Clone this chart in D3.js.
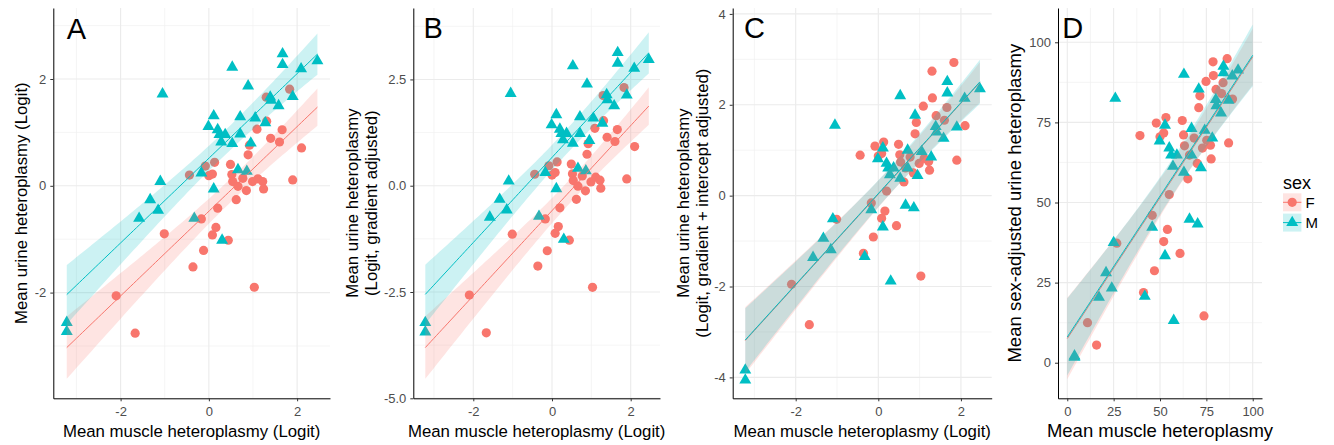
<!DOCTYPE html>
<html>
<head>
<meta charset="utf-8">
<script src="https://cdn.jsdelivr.net/npm/d3@7"></script>
<style>
  body { margin: 0; background: #fff; }
  svg { display: block; font-family: "Liberation Sans", Arial, sans-serif; }
</style>
</head>
<body>
<svg id="chart" width="1334" height="445"></svg>
<script>
// ---- data ----
// muscle heteroplasmy (logit), shared by panels A, B, C
var muscleLogitF = [-2.10, -1.67, -1.01, -0.44, -0.36, -0.17, -0.12, -0.08, 0.00, 0.08, 0.13, 0.08, 0.16, 0.20, 0.44, 0.49, 0.52, 0.54, 0.62, 0.66, 0.77, 0.85, 0.89, 0.92, 0.99, 1.03, 1.09, 1.11, 1.22, 1.24, 1.30, 1.31, 1.40, 1.60, 1.66, 1.83, 1.90, 2.10];
var muscleLogitM = [-3.22, -3.22, -1.58, -1.33, -1.15, -1.10, -1.05, -0.33, -0.17, -0.01, 0.11, 0.11, 0.20, 0.24, 0.28, 0.37, 0.30, 0.53, 0.53, 0.66, 0.71, 0.71, 0.86, 0.89, 0.95, 1.05, 1.28, 1.39, 1.41, 1.58, 1.67, 1.67, 1.90, 2.09, 2.46];

// A: urine heteroplasmy (logit)
var urineAF = [-2.06, -2.76, -0.90, 0.20, -1.52, -0.62, -1.21, 0.37, 0.19, 0.22, 0.44, -0.92, -0.78, -0.42, -1.02, 0.40, 0.21, 0.08, -0.26, -0.01, 0.14, -0.09, 0.58, 0.76, 0.08, -1.90, 1.06, 0.13, 0.08, -0.06, 1.66, 1.21, 0.89, 0.82, 1.05, 1.81, 0.11, 0.71];
var urineAM = [-2.56, -2.73, -0.61, -0.26, -0.46, 0.08, 1.72, -0.61, 0.24, 1.11, 1.31, -0.06, 1.05, 0.96, 0.82, 0.96, -1.02, 0.79, 2.22, 0.30, 1.29, 0.97, 0.27, 1.87, 0.80, 1.27, 1.18, 1.66, 1.60, 1.50, 2.47, 2.27, 1.67, 2.19, 2.34];

// B: gradient adjusted
var urineBF = [-2.57, -3.46, -1.14, 0.27, -1.89, -0.78, -1.53, 0.47, 0.25, 0.31, 0.56, -1.12, -0.96, -0.52, -1.28, 0.51, 0.28, 0.12, -0.32, -0.01, 0.23, -0.12, 0.74, 0.99, 0.09, -2.39, 1.35, 0.20, 0.13, -0.06, 2.12, 1.53, 1.14, 1.04, 1.32, 2.31, 0.16, 0.92];
var urineBM = [-3.22, -3.44, -0.74, -0.32, -0.57, 0.11, 2.17, -0.72, 0.31, 1.43, 1.67, -0.07, 1.33, 1.23, 1.08, 1.23, -1.26, 1.00, 2.82, 0.41, 1.62, 1.23, 0.35, 2.39, 1.06, 1.59, 1.47, 2.14, 2.02, 1.88, 3.13, 2.88, 2.13, 2.76, 2.97];

// C: gradient + intercept adjusted
var urineCF = [-1.95, -2.84, -0.52, 0.89, -1.27, -0.16, -0.91, 1.09, 0.87, 0.93, 1.18, -0.50, -0.34, 0.10, -0.66, 1.13, 0.90, 0.74, 0.30, 0.61, 0.85, 0.50, 1.36, 1.61, 0.71, -1.77, 1.97, 0.82, 0.75, 0.56, 2.74, 2.15, 1.76, 1.66, 1.94, 2.93, 0.78, 1.54];
var urineCM = [-3.84, -4.06, -1.36, -0.94, -1.19, -0.51, 1.55, -1.34, -0.31, 0.81, 1.05, -0.69, 0.71, 0.61, 0.46, 0.61, -1.88, 0.38, 2.20, -0.21, 1.00, 0.61, -0.27, 1.77, 0.44, 0.97, 0.85, 1.52, 1.40, 1.26, 2.51, 2.26, 1.51, 2.14, 2.35];

// D: percentages
var musclePctF = [10.9, 15.8, 26.7, 39.2, 41.1, 45.8, 47.0, 48.0, 50.0, 52.0, 53.2, 52.0, 54.0, 55.0, 60.8, 62.0, 62.7, 63.2, 65.0, 65.9, 68.4, 70.1, 70.9, 71.5, 72.9, 73.7, 74.8, 75.2, 77.2, 77.6, 78.6, 78.8, 80.2, 83.2, 84.0, 86.2, 87.0, 89.1];
var urinePctF = [12.5, 5.5, 37.3, 70.9, 21.9, 46.0, 28.7, 74.8, 70.5, 71.7, 76.5, 37.8, 41.6, 52.5, 34.1, 75.6, 71.1, 67.7, 57.4, 64.8, 70.1, 62.2, 79.6, 83.3, 67.0, 14.6, 87.8, 69.4, 67.9, 63.6, 93.9, 89.6, 85.3, 84.0, 87.4, 94.9, 68.6, 82.3];
var musclePctM = [3.9, 3.9, 17.1, 20.9, 24.0, 25.0, 25.9, 41.8, 45.8, 49.8, 52.7, 52.7, 55.0, 56.0, 57.0, 59.1, 57.4, 62.9, 62.9, 65.9, 67.0, 67.0, 70.3, 70.9, 72.1, 74.1, 78.2, 80.1, 80.4, 82.9, 84.2, 84.2, 87.0, 89.0, 92.1];
var urinePctM = [2.1, 1.7, 20.4, 28.1, 23.3, 37.5, 82.5, 20.7, 42.3, 69.2, 74.1, 33.4, 67.0, 64.8, 61.3, 64.8, 13.2, 59.4, 90.0, 44.8, 73.1, 64.8, 43.3, 85.4, 60.8, 72.5, 70.1, 82.1, 80.2, 77.9, 92.5, 90.5, 81.9, 89.5, 91.3];

// tick labels
var logitTicks = [-2, 0, 2];
var ticksA = [-2, 0, 2];
var ticksB = [-5, -2.5, 0, 2.5];
var ticksC = [-4, -2, 0, 2, 4];
var pctTicks = [0, 25, 50, 75, 100];

var sexes = ['F', 'M'];
var colors = {F: '#F8766D', M: '#00BFC4'};

var svg = d3.select('#chart');
var plotTop = 8, plotBottom = 398.3;

// urine ~ muscle + sex (common slope), 95% band for each sex
function fitBands(groups, x0, x1) {
  var st = {}, sxx = 0, sxy = 0, n = 0, sse = 0;
  sexes.forEach(function(s){
    var xs = groups[s][0], ys = groups[s][1];
    var mx = d3.mean(xs), my = d3.mean(ys);
    st[s] = {n: xs.length, mx: mx, my: my};
    sxx += d3.sum(xs, function(d){ return (d - mx) * (d - mx); });
    sxy += d3.sum(xs.map(function(d, i){ return (d - mx) * (ys[i] - my); }));
    n += xs.length;
  });
  var b = sxy / sxx;
  sexes.forEach(function(s){
    var xs = groups[s][0], ys = groups[s][1];
    st[s].a = st[s].my - b * st[s].mx;
    sse += d3.sum(xs.map(function(d, i){ return Math.pow(ys[i] - st[s].a - b * d, 2); }));
  });
  var sd = Math.sqrt(sse / (n - 3));
  var t = 1.96 + 2.4 / (n - 3);
  var out = {};
  sexes.forEach(function(s){
    var q = st[s];
    out[s] = d3.range(80).map(function(k){
      var x = x0 + (x1 - x0) * k / 79;
      var se = sd * Math.sqrt(1 / q.n + (x - q.mx) * (x - q.mx) / sxx);
      var y = q.a + b * x;
      return {x: x, y: y, lo: y - t * se, hi: y + t * se};
    });
  });
  return out;
}

function minors(ticks, dom) {
  var step = ticks[1] - ticks[0], out = [];
  for (var v = ticks[0] - step / 2; v <= dom[1]; v += step) {
    if (v >= dom[0]) out.push(v);
  }
  return out;
}

var fmt = function(d){ return String(d); };
var fmt1 = function(d){ return d.toFixed(1); };

var panels = [
  {letter: 'A', letterAt: [-3.0, 2.94], left: 53.3, right: 330,
   xDomain: [-3.525, 2.745], yDomain: [-3.98, 3.33], xTicks: logitTicks, yTicks: ticksA, yFmt: fmt,
   fitRange: [-3.22, 2.46], titleSize: 16.8,
   xTitle: 'Mean muscle heteroplasmy (Logit)',
   yTitle: [['Mean urine heteroplasmy (Logit)', 27]],
   data: {F: [muscleLogitF, urineAF], M: [muscleLogitM, urineAM]}},
  {letter: 'B', letterAt: [-3.02, 3.72], left: 413.3, right: 660,
   xDomain: [-3.525, 2.745], yDomain: [-5.0, 4.18], xTicks: logitTicks, yTicks: ticksB, yFmt: fmt1,
   fitRange: [-3.22, 2.46], titleSize: 16.8,
   xTitle: 'Mean muscle heteroplasmy (Logit)',
   yTitle: [['Mean urine heteroplasmy', 357.5], ['(Logit, gradient adjusted)', 376.5]],
   data: {F: [muscleLogitF, urineBF], M: [muscleLogitM, urineBM]}},
  {letter: 'C', letterAt: [-3.0, 3.7], left: 732.7, right: 991.7,
   xDomain: [-3.525, 2.745], yDomain: [-4.46, 4.13], xTicks: logitTicks, yTicks: ticksC, yFmt: fmt,
   fitRange: [-3.22, 2.46], titleSize: 16.8,
   xTitle: 'Mean muscle heteroplasmy (Logit)',
   yTitle: [['Mean urine heteroplasmy', 689], ['(Logit, gradient + intercept adjusted)', 708]],
   data: {F: [muscleLogitF, urineCF], M: [muscleLogitM, urineCM]}},
  {letter: 'D', letterAt: [2.9, 104.5], left: 1058, right: 1262,
   xDomain: [-5, 105], yDomain: [-11.1, 110.7], xTicks: pctTicks, yTicks: pctTicks, yFmt: fmt,
   fitRange: [0, 100], titleSize: 18.5,
   xTitle: 'Mean muscle heteroplasmy',
   yTitle: [['Mean sex-adjusted urine heteroplasmy', 1021]],
   data: {F: [musclePctF, urinePctF], M: [musclePctM, urinePctM]}}
];

var tri = d3.symbol().type(d3.symbolTriangle).size(62);

panels.forEach(function(p){
  var g = svg.append('g');
  var x = d3.scaleLinear().domain(p.xDomain).range([p.left, p.right]);
  var y = d3.scaleLinear().domain(p.yDomain).range([plotBottom, plotTop]);

  // grid
  g.selectAll('.gxm').data(minors(p.xTicks, p.xDomain)).enter().append('line')
    .attr('x1', function(d){ return x(d); }).attr('x2', function(d){ return x(d); })
    .attr('y1', plotTop).attr('y2', plotBottom)
    .attr('stroke', '#f0f0f0').attr('stroke-width', 0.7);
  g.selectAll('.gym').data(minors(p.yTicks, p.yDomain)).enter().append('line')
    .attr('y1', function(d){ return y(d); }).attr('y2', function(d){ return y(d); })
    .attr('x1', p.left).attr('x2', p.right)
    .attr('stroke', '#f0f0f0').attr('stroke-width', 0.7);
  g.selectAll('.gx').data(p.xTicks).enter().append('line')
    .attr('x1', function(d){ return x(d); }).attr('x2', function(d){ return x(d); })
    .attr('y1', plotTop).attr('y2', plotBottom)
    .attr('stroke', '#ebebeb').attr('stroke-width', 1.1);
  g.selectAll('.gy').data(p.yTicks).enter().append('line')
    .attr('y1', function(d){ return y(d); }).attr('y2', function(d){ return y(d); })
    .attr('x1', p.left).attr('x2', p.right)
    .attr('stroke', '#ebebeb').attr('stroke-width', 1.1);

  // points
  sexes.forEach(function(s){
    var xs = p.data[s][0], ys = p.data[s][1];
    var pts = xs.map(function(d, i){ return [d, ys[i]]; });
    if (s === 'F') {
      g.selectAll('.pf').data(pts).enter().append('circle')
        .attr('cx', function(d){ return x(d[0]); })
        .attr('cy', function(d){ return y(d[1]); })
        .attr('r', 4.6)
        .attr('fill', colors.F);
    } else {
      g.selectAll('.pm').data(pts).enter().append('path')
        .attr('d', tri)
        .attr('transform', function(d){ return 'translate(' + x(d[0]) + ',' + y(d[1]) + ')'; })
        .attr('fill', colors.M);
    }
  });

  // fitted lines with confidence ribbons
  var bands = fitBands(p.data, p.fitRange[0], p.fitRange[1]);
  sexes.forEach(function(s){
    g.append('path')
      .datum(bands[s])
      .attr('fill', colors[s])
      .attr('fill-opacity', 0.2)
      .attr('d', d3.area()
        .x(function(d){ return x(d.x); })
        .y0(function(d){ return y(d.lo); })
        .y1(function(d){ return y(d.hi); }));
    g.append('path')
      .datum(bands[s])
      .attr('fill', 'none')
      .attr('stroke', colors[s])
      .attr('stroke-width', 1)
      .attr('d', d3.line()
        .x(function(d){ return x(d.x); })
        .y(function(d){ return y(d.y); }));
  });

  // axes
  var xAxis = g.append('g')
    .attr('transform', 'translate(0,' + plotBottom + ')')
    .call(d3.axisBottom(x).tickValues(p.xTicks).tickFormat(fmt).tickSize(3).tickPadding(5).tickSizeOuter(0));
  var yAxis = g.append('g')
    .attr('transform', 'translate(' + p.left + ',0)')
    .call(d3.axisLeft(y).tickValues(p.yTicks).tickFormat(p.yFmt).tickSize(3).tickPadding(4).tickSizeOuter(0));
  [xAxis, yAxis].forEach(function(a){
    a.attr('font-family', null).attr('font-size', null);
    a.select('.domain').attr('stroke', '#000').attr('stroke-width', 1);
    a.selectAll('.tick line').attr('stroke', '#333');
    a.selectAll('.tick text').attr('fill', '#4d4d4d').style('font-size', '13px');
  });

  // titles
  g.append('text')
    .attr('x', (p.left + p.right) / 2)
    .attr('y', 437)
    .attr('text-anchor', 'middle')
    .style('font-size', p.titleSize + 'px')
    .text(p.xTitle);
  p.yTitle.forEach(function(t){
    g.append('text')
      .attr('transform', 'translate(' + t[1] + ',' + ((plotTop + plotBottom) / 2) + ') rotate(-90)')
      .attr('text-anchor', 'middle')
      .style('font-size', p.titleSize + 'px')
      .text(t[0]);
  });

  // panel letter
  g.append('text')
    .attr('x', x(p.letterAt[0]))
    .attr('y', y(p.letterAt[1]))
    .attr('text-anchor', 'middle')
    .attr('dominant-baseline', 'central')
    .style('font-size', '29px')
    .text(p.letter);
});

// legend
var legend = svg.append('g').attr('transform', 'translate(1283,0)');
legend.append('text')
  .attr('x', 0).attr('y', 188.5)
  .style('font-size', '18px')
  .text('sex');
sexes.forEach(function(s, i){
  var ky = 193.3 + i * 20.3;
  var k = legend.append('g').attr('transform', 'translate(0,' + ky + ')');
  k.append('rect').attr('width', 18.4).attr('height', 18)
    .attr('fill', colors[s]).attr('fill-opacity', 0.2);
  k.append('line').attr('x1', 0).attr('x2', 18.4).attr('y1', 9).attr('y2', 9)
    .attr('stroke', colors[s]).attr('stroke-width', 1);
  if (s === 'F') {
    k.append('circle').attr('cx', 9.2).attr('cy', 9).attr('r', 4.6).attr('fill', colors[s]);
  } else {
    k.append('path').attr('d', tri).attr('transform', 'translate(9.2,9)').attr('fill', colors[s]);
  }
  legend.append('text')
    .attr('x', 22.5).attr('y', ky + 9)
    .attr('dominant-baseline', 'central')
    .style('font-size', '15px')
    .text(s);
});
</script>
</body>
</html>
